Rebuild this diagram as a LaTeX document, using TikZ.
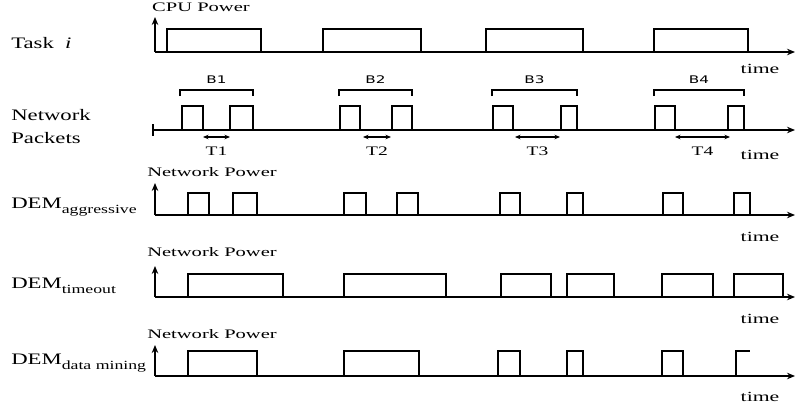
\documentclass[tikz,border=0pt]{standalone}
\usepackage{fontspec}
\setmainfont{Liberation Serif}
\newfontfamily\burstfont{DejaVu Sans}
\usetikzlibrary{arrows.meta}
\tikzset{wave/.style={line width=1.9pt,line join=miter},
         axis/.style={wave,-{Stealth[length=8pt,width=6.5pt]}},
         wide/.style={xscale=#1,transform shape,inner sep=0pt},
         rowlbl/.style={wide=1.42,anchor=west,align=left,font=\fontsize{16}{23}\selectfont},
         pwr/.style={wide=1.58,font=\fontsize{13}{15}\selectfont},
         tm/.style={wide=1.55,font=\fontsize{14}{16}\selectfont},
         brst/.style={wide=1.45,font=\burstfont\fontsize{10.5}{12}\selectfont},
         gaplbl/.style={wide=1.5,font=\fontsize{13}{15}\selectfont},
         brkt/.style={line width=1.5pt},
         gap/.style={line width=1.2pt,{Stealth[length=5.5pt,width=4.5pt]}-{Stealth[length=5.5pt,width=4.5pt]}}}
\newcommand{\sbs}[1]{\raisebox{-4.5pt}{\fontsize{12.5}{13}\selectfont #1}}

\begin{document}
\begin{tikzpicture}[x=1pt,y=-1pt]
 \useasboundingbox (0,0) rectangle (797,412);
 % row labels
 \node[rowlbl] (task) at (11,43) {Task \ \textit{i}};
 \node[rowlbl] (net) at (11,127) {Network\\Packets};
 \node[rowlbl] (aggr) at (11,207) {DEM\sbs{aggressive}};
 \node[rowlbl] (tout) at (11,286) {DEM\sbs{timeout}};
 \node[rowlbl] (dmin) at (11,363) {DEM\sbs{data mining}};
 % power axis labels
 \node[pwr] (cpu) at (201,7) {CPU Power};
 \node[pwr] (np1) at (212,172) {Network Power};
 \node[pwr] (np2) at (212,252) {Network Power};
 \node[pwr] (np3) at (212,334) {Network Power};
 % time labels
 \foreach \y/\n in {69/1,155/2,237/3,319/4,397/5}
   \node[tm] (time\n) at (760,\y) {time};

 % task i
 \draw[axis] (155,52) -- (155,17);
 \draw[axis] (155,52) -- (795,52);
 \foreach \a/\b in {167/261,323/421,486/583,654/748}
   \draw[wave] (\a,52) |- (\b,29) -- (\b,52);

 % network packets
 \draw[wave] (153,124) -- (153,136);
 \draw[axis] (153,130) -- (795,130);
 \foreach \a/\b in {182/203,230/253,340/360,392/412,493/513,561/577,655/675,728/744}
   \draw[wave] (\a,130) |- (\b,106) -- (\b,130);
 \foreach \a/\b/\n in {180/253/1,339/412/2,492/577/3,654/744/4}{
   \draw[brkt] (\a,96) |- (\b,90) -- (\b,96);
   \node[brst] (b\n) at ({(\a+\b)/2},80) {B\n};
 }
 \foreach \a/\b/\n in {203/230/1,363/391/2,515/560/3,675/730/4}{
   \draw[gap] (\a,137) -- (\b,137);
   \node[gaplbl] (t\n) at ({(\a+\b)/2},151) {T\n};
 }

 % DEM aggressive
 \draw[axis] (155,215) -- (155,183);
 \draw[axis] (155,215) -- (795,215);
 \foreach \a/\b in {188/209,233/257,344/366,397/418,500/520,567/583,663/683,734/750}
   \draw[wave] (\a,215) |- (\b,193) -- (\b,215);

 % DEM timeout
 \draw[axis] (155,297) -- (155,266);
 \draw[axis] (155,297) -- (795,297);
 \foreach \a/\b in {188/283,344/446,501/551,567/614,662/713,734/783}
   \draw[wave] (\a,297) |- (\b,274) -- (\b,297);

 % DEM data mining
 \draw[axis] (155,376) -- (155,345);
 \draw[axis] (155,376) -- (795,376);
 \foreach \a/\b in {188/257,344/419,498/520,567/583,662/683}
   \draw[wave] (\a,376) |- (\b,351) -- (\b,376);
 \draw[wave] (736,376) |- (750,351);
\end{tikzpicture}
\end{document}
